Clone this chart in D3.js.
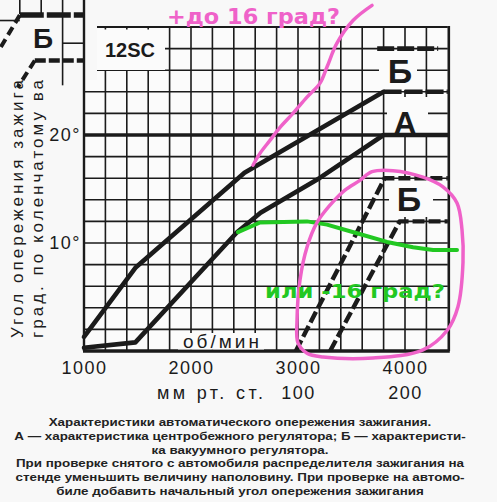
<!DOCTYPE html>
<html><head><meta charset="utf-8">
<script src="https://cdn.jsdelivr.net/npm/d3@7"></script>
<style>body{margin:0;background:#f8f8f8} svg{display:block}</style>
</head><body>
<svg id="c" width="497" height="502"></svg>
<script>
// ---- data ----
const rpmTicks = [1000, 2000, 3000, 4000];
const mmTicks = [100, 200];
const degTicks = [10, 20];
const gridRpm = [1200,1400,1600,1800,2000,2200,2400,2600,2800,3000,3200,3400,3600,3800,4000,4200];
const gridDeg = [2,4,6,8,10,12,14,16,18,20,22,24,26,28,30];
// A – centrifugal regulator (rpm, deg)
const aUpper = [[1000,1.3],[1480,7.7],[2500,16.5],[3800,24]];
const aUpperFlat = [[3800,24],[4400,24]];
const aLower = [[1000,0.3],[1480,0.8],[2430,11.0],[2650,12.8],[3200,16],[3800,20],[4400,20]];
// Б – vacuum regulator (mm Hg, deg)
const bUpper = [[98,0],[181,16],[240,16]];
const bLower = [[130,0],[195,12],[240,12]];
const bLegend = [[3740,28],[4310,28]];
// hand-drawn notes (rpm, deg)
const greenNote = [[2439,11.0],[2645,11.9],[3084,12.0],[3271,11.7],[3551,10.9],[3832,10.1],[4075,9.6],[4262,9.35],[4486,9.35]];
const pinkStroke = [[3692,32.0],[3514,30.6],[3364,28.5],[3271,26.3],[3206,24.8],[3084,23.5],[2953,22.0],[2832,20.7],[2738,19.5],[2645,18.3],[2579,17.2]];
const pinkLoop = [[3692,16.6],[3888,16.7],[4168,16.1],[4355,15.2],[4486,13.7],[4533,11.2],[4542,8.2],[4495,4.1],[4393,1.9],[4168,0.1],[3701,-0.65],[3234,-0.55],[3084,-0.2],[3000,0.75],[2991,2.9],[3019,6.6],[3084,9.6],[3178,11.9],[3299,13.5],[3439,14.9],[3579,15.8]];
// fragment of neighbouring chart (top-left), in extended grid units
const insetThin = [[[400,32.6],[400,31.2]],[[600,32.6],[600,31.2]],[[800,32.6],[800,24.6]],[[200,30.6],[400,30.6]],[[800,28.5],[1000,28.5]]];
const insetThick = [[400,31.1],[1000,31.1]];
const insetDash = [[540,26.9],[1000,26.9]];
const insetDiag = [[[400,31.1],[190,27.6]],[[540,26.9],[380,24.4]]];
const yTitle = ["Угол  опережения  зажига", "град.  по  коленчатому  ва"];
const caption = [
 "Характеристики автоматического опережения зажигания.",
 "А — характеристика центробежного регулятора; Б — характеристи-",
 "ка вакуумного регулятора.",
 "При проверке снятого с автомобиля распределителя зажигания на",
 "стенде уменьшить величину наполовину. При проверке на автомо-",
 "биле добавить начальный угол опережения зажигания"
];

// ---- scales ----
const svg = d3.select("#c");
const x = d3.scaleLinear().domain([1000, 4400]).range([84, 447.8]);
const mm = d3.scaleLinear().domain([-100, 240]).range([84, 447.8]);
const y = d3.scaleLinear().domain([0, 30]).range([351, 27]);
const ink = "#1b1b1b";

svg.append("rect").attr("width",497).attr("height",502).attr("fill","#f8f8f8");
svg.append("rect").attr("x",x(1000)).attr("y",y(30)).attr("width",x(4400)-x(1000)).attr("height",y(0)-y(30)).attr("fill","#fbfbfb");

const line = d3.line().x(d=>x(d[0])).y(d=>y(d[1]));
const lineMM = d3.line().x(d=>mm(d[0])).y(d=>y(d[1]));

// inset fragment
const ins = svg.append("g").attr("stroke", ink).attr("fill","none");
insetThin.forEach(s => ins.append("path").attr("d", line(s)).attr("stroke-width",1.6));
ins.append("path").attr("d", line(insetThick)).attr("stroke-width",5.5).attr("stroke-dasharray","24,3");
ins.append("path").attr("d", line(insetDash)).attr("stroke-width",4.5).attr("stroke-dasharray","11,3");
insetDiag.forEach(s => ins.append("path").attr("d", line(s)).attr("stroke-width",4).attr("stroke-dasharray","9,5"));
svg.append("text").attr("x",x(617)).attr("y",y(28.06)).attr("text-anchor","middle")
  .attr("font-family","Liberation Sans, Arial, sans-serif").attr("font-weight","bold").attr("font-size",28).attr("fill",ink).text("Б");

// grid
const grid = svg.append("g").attr("stroke", ink).attr("stroke-width",1.6);
gridRpm.forEach(r => grid.append("line").attr("x1",x(r)).attr("x2",x(r)).attr("y1",y(0)).attr("y2",y(30)));
gridDeg.forEach(d => grid.append("line").attr("x1",x(1000)).attr("x2",x(4400)).attr("y1",y(d)).attr("y2",y(d))
  .attr("stroke-width", d===20?3.4:(d===30?2:1.6)));
// blank corner & 12SC box
svg.append("rect").attr("x",85).attr("y",18).attr("width",12).attr("height",62).attr("fill","#f8f8f8");
svg.append("rect").attr("x",97).attr("y",29.5).attr("width",68).attr("height",40.5).attr("fill","#fbfbfb");
// borders
svg.append("line").attr("x1",x(1000)).attr("x2",x(1000)).attr("y1",0).attr("y2",y(0)).attr("stroke",ink).attr("stroke-width",2.4);
svg.append("line").attr("x1",x(4400)+1).attr("x2",x(4400)+1).attr("y1",y(30)-1).attr("y2",y(0)).attr("stroke",ink).attr("stroke-width",2.6);
svg.append("line").attr("x1",x(1000)-1).attr("x2",x(4400)+2).attr("y1",y(0)).attr("y2",y(0)).attr("stroke",ink).attr("stroke-width",3.6);

// label boxes
const box = (x0,y0,w,h)=>svg.append("rect").attr("x",x0).attr("y",y0).attr("width",w).attr("height",h).attr("fill","#fbfbfb");
box(379,51,38,39);
box(387,97,41,36);
box(389,179,44,38);
box(178,333,86,16.5);

// curves A
const cur = svg.append("g").attr("fill","none").attr("stroke",ink).attr("stroke-linejoin","round");
cur.append("path").attr("d", line(aUpper)).attr("stroke-width",4.6).attr("stroke-linecap","round");
cur.append("path").attr("d", line(aUpperFlat)).attr("stroke-width",4.6).attr("stroke-dasharray","18,3");
cur.append("path").attr("d", line(aLower)).attr("stroke-width",4.6).attr("stroke-linecap","round");
cur.append("path").attr("d", line(bLegend)).attr("stroke-width",4.6).attr("stroke-dasharray","17,3");
// curves Б
cur.append("path").attr("d", lineMM(bUpper)).attr("stroke-width",4.4).attr("stroke-dasharray","12,4");
cur.append("path").attr("d", lineMM(bLower)).attr("stroke-width",4.4).attr("stroke-dasharray","12,4");

// labels
const lab = (t,xx,yy,fs)=>svg.append("text").attr("x",xx).attr("y",yy).attr("text-anchor","middle")
  .attr("font-family","Liberation Sans, Arial, sans-serif").attr("font-weight","bold").attr("font-size",fs).attr("fill",ink).text(t);
lab("Б", x(3953), y(24.8), 34);
lab("А", x(4000), y(20.1), 32);
lab("Б", x(4037), y(13.0), 34);
lab("12SC", 130, 57, 20);
svg.append("text").attr("x",183).attr("y",348).attr("textLength",76).attr("lengthAdjust","spacing")
  .attr("font-family","Liberation Sans, Arial, sans-serif").attr("font-size",19).attr("fill",ink).text("об/мин");

// axes
const fontAx = "Liberation Sans, Arial, sans-serif";
const ax = svg.append("g").attr("transform",`translate(0,${y(0)})`)
  .call(d3.axisBottom(x).tickValues(rpmTicks).tickSize(0).tickPadding(10).tickFormat(d3.format("d")));
const axm = svg.append("g").attr("transform",`translate(0,${y(0)})`)
  .call(d3.axisBottom(mm).tickValues(mmTicks).tickSize(0).tickPadding(35).tickFormat(d3.format("d")));
const ay = svg.append("g").attr("transform",`translate(${x(1000)-2},0)`)
  .call(d3.axisLeft(y).tickValues(degTicks).tickSize(0).tickPadding(1).tickFormat(d=>d+"°"));
[ax,axm,ay].forEach(g=>{ g.select(".domain").remove();
  g.selectAll("text").attr("font-family",fontAx).attr("font-size",18).attr("fill",ink).attr("letter-spacing","1.5px"); });
svg.append("text").attr("x",157).attr("y",399).attr("textLength",106).attr("lengthAdjust","spacing")
  .attr("font-family",fontAx).attr("font-size",18).attr("fill",ink).text("мм рт. ст.");

// y title
yTitle.forEach((t,i)=>svg.append("text").attr("transform",`translate(${23+i*20},338) rotate(-90)`)
  .attr("textLength",258).attr("lengthAdjust","spacing")
  .attr("font-family",fontAx).attr("font-size",17).attr("fill",ink).text(t));

// hand-drawn notes
svg.append("path").attr("d", line(greenNote)).attr("fill","none").attr("stroke","#22c822").attr("stroke-width",4).attr("stroke-linecap","round").attr("stroke-linejoin","round");
const pinkC = "#ef62c9";
svg.append("path").attr("d", d3.line().x(d=>x(d[0])).y(d=>y(d[1])).curve(d3.curveCatmullRomClosed)(pinkLoop))
  .attr("fill","none").attr("stroke",pinkC).attr("stroke-width",3.5);
svg.append("path").attr("d", d3.line().x(d=>x(d[0])).y(d=>y(d[1])).curve(d3.curveCatmullRom)(pinkStroke))
  .attr("fill","none").attr("stroke",pinkC).attr("stroke-width",3.5).attr("stroke-linecap","round");
svg.append("text").attr("x",167).attr("y",24).attr("textLength",173).attr("lengthAdjust","spacingAndGlyphs")
  .attr("font-family","DejaVu Sans, sans-serif").attr("font-weight","bold").attr("font-size",21).attr("fill",pinkC).text("+до 16 град?");
svg.append("text").attr("x",265).attr("y",298).attr("textLength",180).attr("lengthAdjust","spacingAndGlyphs")
  .attr("font-family","DejaVu Sans, sans-serif").attr("font-weight","bold").attr("font-size",20).attr("fill","#22c822").text("или -16 град?");

// caption: glyphs stretched horizontally to the scan's line widths
const capY = [426, 439.8, 453.6, 467.4, 481.2, 495];
caption.forEach((t,i)=>{
  const tx = svg.append("text").attr("x",240).attr("y",capY[i]).attr("text-anchor","middle")
    .attr("font-family",fontAx).attr("font-weight","bold").attr("font-size",13.4).attr("fill","#222").text(t);
  const w = tx.node().getComputedTextLength();
  tx.attr("font-size",11.8).attr("textLength",w).attr("lengthAdjust","spacingAndGlyphs");
});
</script>
</body></html>
